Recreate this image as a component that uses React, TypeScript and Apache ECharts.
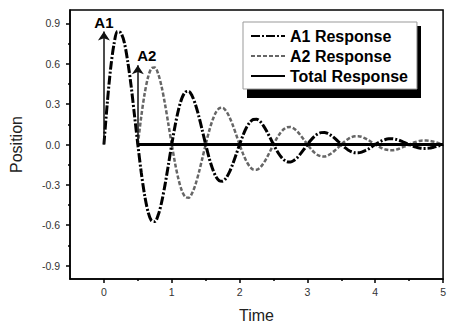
import React, { useEffect, useRef } from "react";
import * as echarts from "echarts";

// sample times (s)
const time: number[] = [
  0, 0.05, 0.1, 0.15, 0.2, 0.25, 0.3, 0.35, 0.4, 0.45,
  0.5, 0.55, 0.6, 0.65, 0.7, 0.75, 0.8, 0.85, 0.9, 0.95,
  1, 1.05, 1.1, 1.15, 1.2, 1.25, 1.3, 1.35, 1.4, 1.45,
  1.5, 1.55, 1.6, 1.65, 1.7, 1.75, 1.8, 1.85, 1.9, 1.95,
  2, 2.05, 2.1, 2.15, 2.2, 2.25, 2.3, 2.35, 2.4, 2.45,
  2.5, 2.55, 2.6, 2.65, 2.7, 2.75, 2.8, 2.85, 2.9, 2.95,
  3, 3.05, 3.1, 3.15, 3.2, 3.25, 3.3, 3.35, 3.4, 3.45,
  3.5, 3.55, 3.6, 3.65, 3.7, 3.75, 3.8, 3.85, 3.9, 3.95,
  4, 4.05, 4.1, 4.15, 4.2, 4.25, 4.3, 4.35, 4.4, 4.45,
  4.5, 4.55, 4.6, 4.65, 4.7, 4.75, 4.8, 4.85, 4.9, 4.95,
  5,
];

// A1 response, from t = 0
const a1Response: number[] = [
  0, 0.31, 0.57, 0.75, 0.84, 0.83, 0.76, 0.62, 0.44, 0.22,
  0, -0.206, -0.377, -0.499, -0.566, -0.573, -0.525, -0.431, -0.302, -0.153,
  0, 0.142, 0.26, 0.345, 0.39, 0.396, 0.362, 0.297, 0.208, 0.105,
  0, -0.098, -0.179, -0.238, -0.269, -0.273, -0.25, -0.205, -0.144, -0.073,
  0, 0.068, 0.124, 0.164, 0.186, 0.188, 0.173, 0.141, 0.099, 0.05,
  0, -0.047, -0.085, -0.113, -0.128, -0.13, -0.119, -0.098, -0.068, -0.035,
  0, 0.032, 0.059, 0.078, 0.088, 0.09, 0.082, 0.067, 0.047, 0.024,
  0, -0.022, -0.041, -0.054, -0.061, -0.062, -0.057, -0.046, -0.033, -0.016,
  0, 0.015, 0.028, 0.037, 0.042, 0.043, 0.039, 0.032, 0.022, 0.011,
  0, -0.011, -0.019, -0.026, -0.029, -0.029, -0.027, -0.022, -0.016, -0.008,
  0,
];

// A2 response, from t = 0.5 (index 10 of time)
const a2Start = 10;
const a2Response: number[] = [
  0, 0.206, 0.377, 0.499, 0.566, 0.573, 0.525, 0.431, 0.302, 0.153,
  0, -0.142, -0.26, -0.345, -0.39, -0.396, -0.362, -0.297, -0.208, -0.105,
  0, 0.098, 0.179, 0.238, 0.269, 0.273, 0.25, 0.205, 0.144, 0.073,
  0, -0.068, -0.124, -0.164, -0.186, -0.188, -0.173, -0.141, -0.099, -0.05,
  0, 0.047, 0.085, 0.113, 0.128, 0.13, 0.119, 0.098, 0.068, 0.035,
  0, -0.032, -0.059, -0.078, -0.088, -0.09, -0.082, -0.067, -0.047, -0.024,
  0, 0.022, 0.041, 0.054, 0.061, 0.062, 0.057, 0.046, 0.033, 0.016,
  0, -0.015, -0.028, -0.037, -0.042, -0.043, -0.039, -0.032, -0.022, -0.011,
  0, 0.011, 0.019, 0.026, 0.029, 0.029, 0.027, 0.022, 0.016, 0.008,
  0,
];

// Total response after the second impulse
const totalTime: number[] = [0.5, 5];
const totalResponse: number[] = [0, 0];

// impulses
const impulseTimes: number[] = [0, 0.5];
const impulseAmps: number[] = [0.84, 0.59];
const impulseNames: string[] = ["A1", "A2"];

const xMajorTicks: number[] = [0, 1, 2, 3, 4, 5];
const xMinorTicks: number[] = [0.5, 1.5, 2.5, 3.5, 4.5];
const yMajorTicks: number[] = [-0.9, -0.6, -0.3, 0, 0.3, 0.6, 0.9];
const yMinorTicks: number[] = [-0.75, -0.45, -0.15, 0.15, 0.45, 0.75];

const FONT = "'Liberation Sans', Arial, sans-serif";

export default function App() {
  const ref = useRef<HTMLDivElement>(null);
  useEffect(() => {
    if (!ref.current) return;
    const chart = echarts.init(ref.current, undefined, { renderer: "svg" });
    const a1Data = time.map((t, i) => [t, a1Response[i]]);
    const a2Data = a2Response.map((v, i) => [time[i + a2Start], v]);
    const totData = totalTime.map((t, i) => [t, totalResponse[i]]);
    const arrows = impulseTimes.map((t, i) => [
      { coord: [t, 0] },
      {
        coord: [t, impulseAmps[i]],
        label: {
          show: true,
          formatter: impulseNames[i],
          offset: i === 1 ? [9, 0] : [0, 0],
        },
      },
    ]);
    chart.setOption({
      animation: false,
      textStyle: { fontFamily: FONT },
      grid: {
        left: 69,
        right: 2,
        top: 10,
        bottom: 43,
        show: true,
        borderColor: "#000",
        borderWidth: 1.5,
      },
      legend: {
        left: 243,
        top: 22,
        orient: "vertical",
        itemWidth: 34,
        itemHeight: 10,
        itemGap: 4,
        padding: [6, 9, 5, 7],
        backgroundColor: "#fff",
        borderColor: "#999",
        borderWidth: 1,
        itemStyle: { opacity: 0 },
        textStyle: { fontSize: 16, fontWeight: "bold", color: "#000", fontFamily: FONT },
        data: ["A1 Response", "A2 Response", "Total Response"],
      },
      graphic: [
        {
          type: "rect",
          shape: { x: 247, y: 26, width: 174, height: 72 },
          style: { fill: "#000" },
          z: 3,
          silent: true,
        },
      ],
      xAxis: [
        {
          type: "value",
          min: -0.5,
          max: 5,
          name: "Time",
          nameLocation: "middle",
          nameGap: 28,
          nameTextStyle: { fontSize: 16, color: "#222" },
          splitLine: { show: false },
          axisLine: { show: true, onZero: false, lineStyle: { color: "#000", width: 1.5 } },
          axisTick: { show: true, length: 4, customValues: xMajorTicks, lineStyle: { color: "#000", width: 1.5 } },
          axisLabel: { customValues: xMajorTicks, fontSize: 10.5, color: "#333", margin: 7 },
        },
        {
          type: "value",
          min: -0.5,
          max: 5,
          position: "bottom",
          splitLine: { show: false },
          axisLine: { show: false, onZero: false },
          axisTick: { show: true, length: 2, customValues: xMinorTicks, lineStyle: { color: "#000", width: 1.5 } },
          axisLabel: { show: false },
        },
      ],
      yAxis: [
        {
          type: "value",
          min: -1,
          max: 1,
          name: "Position",
          nameLocation: "middle",
          nameGap: 46,
          nameTextStyle: { fontSize: 16, color: "#222" },
          splitLine: { show: false },
          axisLine: { show: true, onZero: false, lineStyle: { color: "#000", width: 1.5 } },
          axisTick: { show: true, length: 4, customValues: yMajorTicks, lineStyle: { color: "#000", width: 1.5 } },
          axisLabel: {
            customValues: yMajorTicks,
            fontSize: 10.5,
            color: "#333",
            margin: 10,
            formatter: (v: number) => v.toFixed(1),
          },
        },
        {
          type: "value",
          min: -1,
          max: 1,
          position: "left",
          splitLine: { show: false },
          axisLine: { show: false, onZero: false },
          axisTick: { show: true, length: 2, customValues: yMinorTicks, lineStyle: { color: "#000", width: 1.5 } },
          axisLabel: { show: false },
        },
      ],
      series: [
        {
          name: "A1 Response",
          type: "line",
          data: a1Data,
          symbol: "none",
          smooth: 0.3,
          z: 4,
          lineStyle: { color: "#000", width: 3, type: [9, 2, 2, 2] },
          itemStyle: { color: "#000" },
          markLine: {
            silent: true,
            symbol: ["none", "arrow"],
            symbolSize: 9,
            lineStyle: { color: "#111", width: 1.5, type: "solid" },
            label: {
              position: "end",
              fontSize: 15,
              fontWeight: "bold",
              color: "#000",
              distance: 2,
              fontFamily: FONT,
            },
            emphasis: { disabled: true },
            data: arrows,
          },
        },
        {
          name: "A2 Response",
          type: "line",
          data: a2Data,
          symbol: "none",
          smooth: 0.3,
          z: 3,
          lineStyle: { color: "#666", width: 2.5, type: [4, 2] },
          itemStyle: { color: "#666" },
        },
        {
          name: "Total Response",
          type: "line",
          data: totData,
          symbol: "none",
          z: 5,
          lineStyle: { color: "#000", width: 3, type: "solid" },
          itemStyle: { color: "#000" },
        },
      ],
    });
    return () => chart.dispose();
  }, []);
  return (
    <div
      ref={ref}
      style={{ position: "fixed", left: 0, top: 0, width: 449, height: 328, background: "#fff" }}
    />
  );
}
